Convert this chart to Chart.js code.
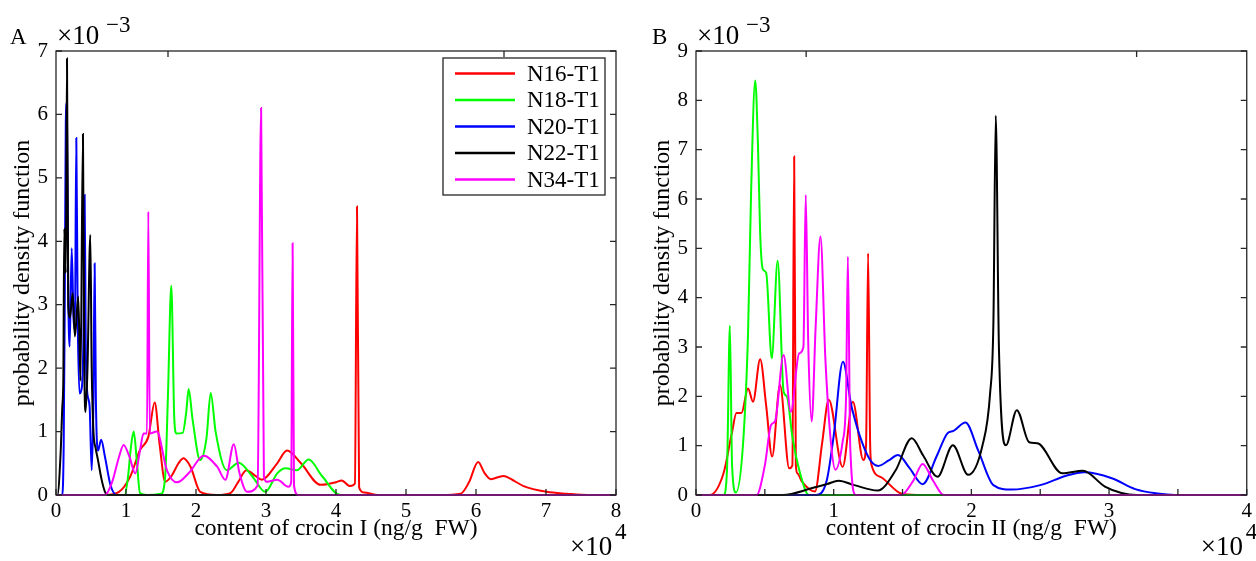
<!DOCTYPE html>
<html>
<head>
<meta charset="utf-8">
<script src="https://cdn.jsdelivr.net/npm/chart.js@4.4.1/dist/chart.umd.min.js"></script>
<style>
  body { margin: 0; background: #fff; width: 1256px; height: 561px; overflow: hidden; position: relative; }
  .panel { position: absolute; top: 0; }
  #wa { left: 0; }
  #wb { left: 640px; }
</style>
</head>
<body>
<div class="panel" id="wa"><canvas id="ca" width="640" height="561"></canvas></div>
<div class="panel" id="wb"><canvas id="cb" width="616" height="561"></canvas></div>
<script>
// series names (legend order)
const names = ['N16-T1', 'N18-T1', 'N20-T1', 'N22-T1', 'N34-T1'];
const colors = ['#ff0000', '#00ff00', '#0000ff', '#000000', '#ff00ff'];

// ---- panel A: crocin I, x in 1e4 ng/g, y in 1e-3 ----
const aTicksX = [0, 1, 2, 3, 4, 5, 6, 7, 8];
const aTicksY = [0, 1, 2, 3, 4, 5, 6, 7];

const aN16x = [0, 0.7, 0.9, 1.06, 1.2, 1.32, 1.41, 1.48, 1.56, 1.65, 1.75, 1.82, 1.92, 2.06, 2.3, 2.49, 2.6, 2.72, 2.85, 2.94, 3.16, 3.3, 3.5, 3.78, 4.0, 4.08, 4.2, 4.27, 4.3, 4.33, 4.4, 4.6, 5.5, 5.78, 5.9, 6.03, 6.12, 6.21, 6.39, 6.55, 6.68, 7.01, 7.3, 7.6, 8];
const aN16y = [0, 0, 0.05, 0.29, 0.71, 0.92, 1.46, 0.8, 0.21, 0.3, 0.5, 0.58, 0.45, 0.05, 0, 0.03, 0.2, 0.39, 0.3, 0.24, 0.5, 0.7, 0.5, 0.16, 0.2, 0.23, 0.14, 0.18, 4.55, 0.12, 0.04, 0, 0, 0.02, 0.2, 0.52, 0.35, 0.25, 0.3, 0.22, 0.14, 0.05, 0.02, 0, 0];

const aN18x = [0, 0.98, 1.03, 1.07, 1.11, 1.15, 1.2, 1.3, 1.5, 1.56, 1.6, 1.647, 1.69, 1.72, 1.81, 1.86, 1.895, 1.95, 2.06, 2.15, 2.21, 2.28, 2.44, 2.61, 2.8, 2.99, 3.16, 3.28, 3.44, 3.61, 3.8, 4.06, 8];
const aN18y = [0, 0, 0.3, 0.75, 1.0, 0.6, 0.03, 0, 0.02, 0.3, 1.6, 3.3, 1.2, 0.97, 0.98, 1.3, 1.67, 1.2, 0.55, 0.9, 1.61, 1.0, 0.39, 0.51, 0.3, 0.05, 0.34, 0.42, 0.39, 0.56, 0.3, 0, 0];

const aN20x = [0, 0.09, 0.11, 0.125, 0.14, 0.155, 0.175, 0.195, 0.224, 0.25, 0.27, 0.29, 0.31, 0.337, 0.37, 0.392, 0.409, 0.425, 0.443, 0.48, 0.51, 0.535, 0.552, 0.57, 0.6, 0.645, 0.7, 0.78, 0.87, 8];
const aN20y = [0, 0, 0.8, 3.0, 5.87, 6.18, 3.2, 2.34, 3.89, 2.8, 2.6, 5.63, 2.8, 1.6, 1.7, 2.5, 4.73, 2.4, 1.66, 1.4, 0.39, 1.5, 3.65, 1.5, 0.7, 0.87, 0.6, 0.15, 0, 0];

const aN22x = [0, 0.02, 0.066, 0.09, 0.105, 0.118, 0.14, 0.157, 0.175, 0.2, 0.238, 0.27, 0.318, 0.35, 0.385, 0.405, 0.423, 0.45, 0.49, 0.51, 0.535, 0.566, 0.6, 0.65, 0.7, 0.75, 8];
const aN22y = [0, 0, 0.66, 1.39, 1.85, 4.2, 3.5, 6.88, 3.0, 2.8, 3.18, 2.5, 3.13, 1.8, 5.69, 2.0, 1.31, 2.0, 4.1, 2.0, 1.0, 0.74, 0.55, 0.25, 0.05, 0, 0];

const aN34x = [0, 0.7, 0.8, 0.9, 0.966, 1.05, 1.133, 1.2, 1.25, 1.3, 1.319, 1.34, 1.44, 1.585, 1.73, 1.9, 2.11, 2.3, 2.42, 2.54, 2.62, 2.73, 2.88, 2.93, 2.97, 3.01, 3.16, 3.32, 3.36, 3.38, 3.4, 3.46, 8];
const aN34y = [0, 0, 0.2, 0.6, 0.79, 0.6, 0.34, 0.7, 0.97, 0.97, 4.47, 0.97, 1.0, 0.39, 0.2, 0.35, 0.62, 0.45, 0.24, 0.8, 0.35, 0.05, 0.15, 6.1, 0.3, 0.21, 0.24, 0.13, 0.2, 3.97, 0.15, 0, 0];

// ---- panel B: crocin II ----
const bTicksX = [0, 0.5, 1, 1.5, 2, 2.5, 3, 3.5, 4];
const bTicksY = [0, 1, 2, 3, 4, 5, 6, 7, 8, 9];

const bN16x = [0, 0.1, 0.2, 0.26, 0.294, 0.33, 0.378, 0.414, 0.466, 0.51, 0.553, 0.61, 0.677, 0.7, 0.713, 0.725, 0.737, 0.77, 0.864, 0.916, 0.964, 1.065, 1.139, 1.215, 1.235, 1.25, 1.265, 1.275, 1.35, 1.49, 1.6, 4];
const bN16y = [0, 0, 0.44, 1.25, 1.66, 1.66, 2.16, 1.89, 2.75, 1.8, 0.78, 2.23, 0.54, 0.6, 6.86, 0.6, 0.44, 0.27, 0.07, 1.05, 1.93, 0.57, 1.89, 0.71, 1.0, 4.9, 1.0, 0.61, 0.35, 0.03, 0, 0];

const bN18x = [0, 0.2, 0.225, 0.246, 0.262, 0.29, 0.342, 0.378, 0.4, 0.43, 0.45, 0.466, 0.485, 0.51, 0.55, 0.593, 0.636, 0.66, 0.7, 0.76, 0.82, 4];
const bN18y = [0, 0, 0.5, 3.43, 0.6, 0.05, 1.05, 3.28, 6.12, 8.4, 7.1, 5.3, 4.58, 4.5, 2.77, 4.75, 2.1, 2.0, 1.18, 0.4, 0, 0];

const bN20x = [0, 0.87, 0.95, 1.0, 1.067, 1.13, 1.25, 1.323, 1.4, 1.467, 1.55, 1.646, 1.75, 1.826, 1.87, 1.957, 2.05, 2.16, 2.29, 2.5, 2.7, 2.82, 3.02, 3.19, 3.35, 3.48, 4];
const bN20y = [0, 0, 0.3, 1.2, 2.7, 1.79, 0.78, 0.59, 0.7, 0.81, 0.55, 0.22, 0.8, 1.25, 1.3, 1.47, 0.9, 0.2, 0.11, 0.2, 0.4, 0.46, 0.34, 0.12, 0.03, 0, 0];

const bN22x = [0, 0.63, 0.845, 0.95, 1.036, 1.15, 1.32, 1.45, 1.567, 1.65, 1.754, 1.866, 1.976, 2.08, 2.136, 2.16, 2.177, 2.2, 2.251, 2.33, 2.42, 2.48, 2.66, 2.81, 2.97, 3.09, 3.2, 4];
const bN22y = [0, 0, 0.14, 0.22, 0.29, 0.2, 0.09, 0.5, 1.15, 0.8, 0.37, 1.01, 0.41, 1.0, 2.06, 3.5, 7.69, 3.0, 1.01, 1.72, 1.07, 1.05, 0.44, 0.49, 0.17, 0.04, 0, 0];

const bN34x = [0, 0.44, 0.5, 0.545, 0.575, 0.636, 0.689, 0.749, 0.78, 0.797, 0.815, 0.84, 0.869, 0.904, 0.94, 0.98, 1.012, 1.065, 1.09, 1.103, 1.12, 1.16, 1.49, 1.58, 1.646, 1.72, 1.8, 4];
const bN34y = [0, 0, 0.6, 1.42, 1.5, 2.84, 1.69, 2.87, 3.0, 6.08, 3.1, 1.49, 3.41, 5.24, 2.74, 1.06, 0.51, 1.08, 2.0, 4.83, 1.0, 0, 0, 0.3, 0.63, 0.3, 0, 0];

const FONT = '"Liberation Serif", "Times New Roman", serif';
const INK = '#262626';

function pts(xs, ys) {
  return xs.map((x, i) => ({ x, y: ys[i] }));
}

function makeSets(series) {
  return series.map((s, i) => ({
    label: names[i],
    data: pts(s[0], s[1]),
    borderColor: colors[i],
    borderWidth: 2,
    pointRadius: 0,
    cubicInterpolationMode: 'monotone',
    clip: false,
    order: 5 - i  // later series on top, like the original
  }));
}

// frame, inward ticks, exponent labels, panel letter and legend
const decor = {
  id: 'decor',
  afterDatasetsDraw(chart, args, o) {
    const { ctx, chartArea: a, scales: { x, y } } = chart;
    ctx.save();
    ctx.strokeStyle = INK;
    ctx.lineWidth = 1.3;
    ctx.strokeRect(a.left, a.top, a.width, a.height);
    ctx.beginPath();
    x.ticks.forEach(t => {
      const px = x.getPixelForValue(t.value);
      ctx.moveTo(px, a.bottom); ctx.lineTo(px, a.bottom - 6);
    });
    o.topTicks.forEach(v => {
      const px = x.getPixelForValue(v);
      ctx.moveTo(px, a.top); ctx.lineTo(px, a.top + 6);
    });
    y.ticks.forEach(t => {
      const py = y.getPixelForValue(t.value);
      ctx.moveTo(a.left, py); ctx.lineTo(a.left + 6, py);
      ctx.moveTo(a.right, py); ctx.lineTo(a.right - 6, py);
    });
    ctx.stroke();

    ctx.fillStyle = '#000';
    ctx.textBaseline = 'alphabetic';
    ctx.textAlign = 'left';
    ctx.font = '23px ' + FONT;
    ctx.fillText(o.letter, o.letterX, 44);
    ctx.font = '27px ' + FONT;
    ctx.fillText('\u00d710', a.left + 1, 44);
    ctx.fillText('\u00d710', a.right - 46, 555);
    ctx.font = '23px ' + FONT;
    ctx.fillText('\u22123', a.left + 50, 32);
    ctx.fillText('4', a.right - 1, 539);

    if (o.legend) {
      const lx = a.right - 173, ly = a.top + 7, lw = 162, lh = 137;
      ctx.fillStyle = '#fff';
      ctx.fillRect(lx, ly, lw, lh);
      ctx.strokeStyle = INK;
      ctx.lineWidth = 1.3;
      ctx.strokeRect(lx, ly, lw, lh);
      ctx.font = '23px ' + FONT;
      ctx.textBaseline = 'middle';
      chart.data.datasets.forEach((d, i) => {
        const ry = ly + 15.5 + i * 26.5;
        ctx.strokeStyle = d.borderColor;
        ctx.lineWidth = 2.5;
        ctx.beginPath();
        ctx.moveTo(lx + 12, ry); ctx.lineTo(lx + 72, ry);
        ctx.stroke();
        ctx.fillStyle = '#000';
        ctx.fillText(d.label, lx + 84, ry + 1);
      });
    }
    ctx.restore();
  }
};

function makeChart(id, series, xMax, yMax, xTitle, extra) {
  return new Chart(document.getElementById(id), {
    type: 'line',
    data: { datasets: makeSets(series) },
    plugins: [decor],
    options: {
      responsive: false,
      animation: false,
      events: [],
      layout: { padding: { left: 0, top: 51, right: extra.padRight, bottom: 0 } },
      plugins: {
        legend: { display: false },
        tooltip: { enabled: false },
        decor: extra
      },
      scales: {
        x: {
          type: 'linear',
          min: 0, max: xMax,
          grid: { display: false, drawTicks: false },
          border: { display: false },
          afterFit: s => { s.height = 66; },
          afterBuildTicks: s => { s.ticks = extra.xTicks.map(v => ({ value: v })); },
          ticks: {
            padding: 4,
            color: '#000',
            maxRotation: 0,
            autoSkip: false,
            font: { family: FONT, size: 21 },
            callback: v => (Number.isInteger(v) ? String(v) : '')
          },
          title: {
            display: true,
            text: xTitle,
            color: '#000',
            font: { family: FONT, size: 23.5 },
            padding: { top: 0, bottom: 18 }
          }
        },
        y: {
          min: 0, max: yMax,
          grid: { display: false, drawTicks: false },
          border: { display: false },
          afterFit: s => { s.width = 56; },
          afterBuildTicks: s => { s.ticks = extra.yTicks.map(v => ({ value: v })); },
          ticks: {
            padding: 8,
            color: '#000',
            font: { family: FONT, size: 21 },
            callback: v => String(v)
          },
          title: {
            display: true,
            text: 'probability density function',
            color: '#000',
            font: { family: FONT, size: 24 },
            padding: { top: 8, bottom: 0 }
          }
        }
      }
    }
  });
}

makeChart('ca',
  [[aN16x, aN16y], [aN18x, aN18y], [aN20x, aN20y], [aN22x, aN22y], [aN34x, aN34y]],
  8, 7, 'content of crocin I (ng/g  FW)',
  { letter: 'A', letterX: 10, legend: true, padRight: 24, topTicks: [1.6, 6.4], xTicks: aTicksX, yTicks: aTicksY });

makeChart('cb',
  [[bN16x, bN16y], [bN18x, bN18y], [bN20x, bN20y], [bN22x, bN22y], [bN34x, bN34y]],
  4, 9, 'content of crocin II (ng/g  FW)',
  { letter: 'B', letterX: 12, legend: false, padRight: 5, topTicks: [0.8, 3.2], xTicks: bTicksX, yTicks: bTicksY });
</script>
</body>
</html>
